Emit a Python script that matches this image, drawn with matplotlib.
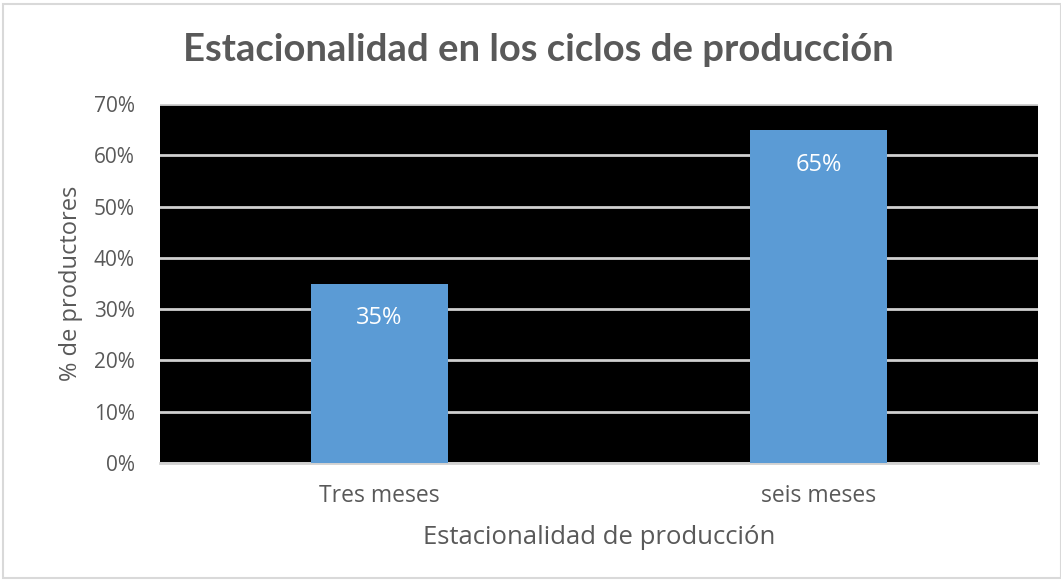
import matplotlib
matplotlib.use("Agg")
import matplotlib.pyplot as plt
from matplotlib.patches import Rectangle

categories = ["Tres meses", "seis meses"]
values = [35, 65]
value_labels = ["35%", "65%"]
y_ticks = [0, 10, 20, 30, 40, 50, 60, 70]
y_tick_labels = ["0%", "10%", "20%", "30%", "40%", "50%", "60%", "70%"]

plt.rcParams["font.family"] = ["Open Sans", "DejaVu Sans"]
grey = "#595959"

W, H = 1061, 580
fig = plt.figure(figsize=(W / 100, H / 100), dpi=100)
fig.patch.set_facecolor("white")

# outer chart frame
fig.add_artist(Rectangle((3 / W, 2 / H), (W - 3) / W, (H - 6) / H,
                         transform=fig.transFigure, fill=False,
                         edgecolor="#d9d9d9", linewidth=1.5))

ax = fig.add_axes([160 / W, 1 - 463 / H, (1038 - 160) / W, (463 - 104) / H])
ax.set_facecolor("black")

x = list(range(len(categories)))
ax.set_xlim(-0.5, len(categories) - 0.5)
ax.set_ylim(0, 70)

ax.set_yticks(y_ticks)
ax.set_yticklabels(y_tick_labels, color=grey, fontsize=15)
ax.yaxis.grid(True, color="#d0d0d0", linewidth=2)
ax.set_axisbelow(True)

ax.bar(x, values, width=0.31, color="#5b9bd5", zorder=3)
for xi, v, lab in zip(x, values, value_labels):
    ax.annotate(lab, (xi, v), xytext=(0, -35), textcoords="offset pixels",
                ha="center", va="center", color="white", fontsize=17, zorder=4)

ax.set_xticks(x)
ax.set_xticklabels(categories, color=grey, fontsize=16.5)
ax.tick_params(axis="y", length=0, pad=18)
ax.tick_params(axis="x", length=0, pad=15)

for s in ["top", "right", "left"]:
    ax.spines[s].set_visible(False)
ax.spines["bottom"].set_color("#d0d0d0")
ax.spines["bottom"].set_linewidth(2)

ax.set_xlabel("Estacionalidad de producción", color=grey, fontsize=18.5, labelpad=12)
ax.set_ylabel("% de productores", color=grey, fontsize=17, labelpad=8)

fig.text(538 / W, 1 - 50 / H, "Estacionalidad en los ciclos de producción",
         ha="center", va="center", color=grey, fontsize=27.5, fontweight="bold",
         family=["Lato", "DejaVu Sans"])

fig.savefig("out.png", dpi=100, facecolor="white")
